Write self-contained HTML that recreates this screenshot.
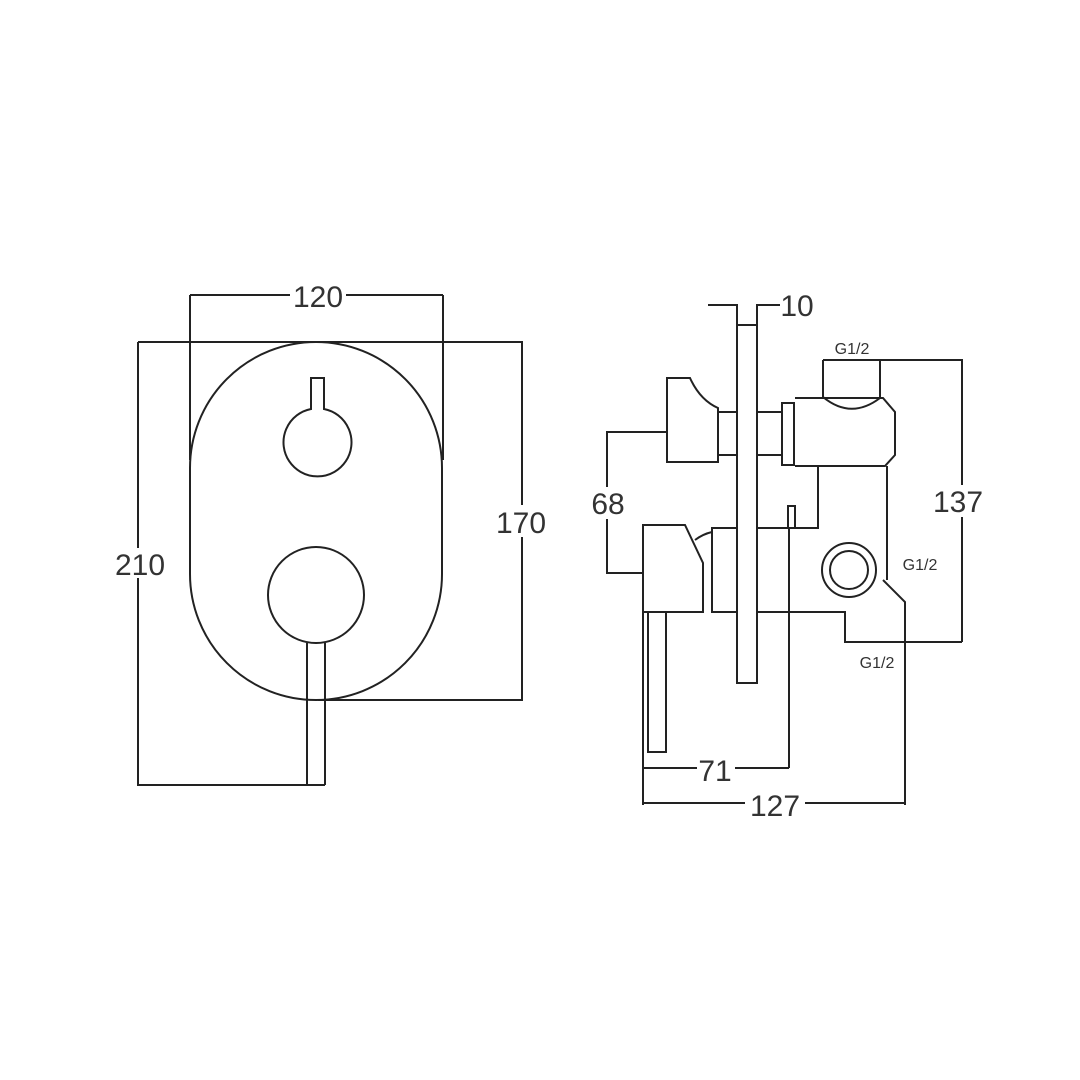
<!DOCTYPE html>
<html><head><style>html,body{margin:0;padding:0;background:#fff}svg{display:block}</style></head><body>
<svg width="1080" height="1080" viewBox="0 0 1080 1080" xmlns="http://www.w3.org/2000/svg">
<g fill="none" stroke="#222" stroke-width="2">
<!-- LEFT VIEW -->
<path d="M190,468 A126,126 0 0 1 442,468 L442,574 A126,126 0 0 1 190,574 Z"/>
<path d="M190,295 L443,295 M190,295 L190,460 M443,295 L443,460"/>
<path d="M138,342 L522,342 L522,700 L318,700 M138,342 L138,785 L325,785"/>
<path d="M311,378 L324,378 L324,409 A34,34 0 1 1 311,409 Z"/>
<circle cx="316" cy="595" r="48"/>
<path d="M307,643 L307,785 M325,643 L325,785"/>
<!-- RIGHT VIEW -->
<rect x="737" y="325" width="20" height="358"/>
<path d="M708,305 L737,305 L737,325 M757,325 L757,305 L780,305"/>
<path d="M667,378 L690,378 Q700,400 718,408 L718,462 L667,462 Z"/>
<rect x="718" y="412" width="19" height="43"/>
<rect x="757" y="412" width="25" height="43"/>
<rect x="782" y="403" width="12" height="62"/>
<path d="M795,398 L883,398 L895,412 L895,455 L885,466 L795,466"/>
<path d="M823,360 L880,360 L880,398 M823,360 L823,397 Q851,420 880,398"/>
<path d="M818,466 L818,528 L757,528 M788,528 L788,506 L795,506 L795,528"/>
<path d="M887,466 L887,580"/>
<path d="M643,525 L685,525 L703,563 L703,612 L643,612 Z"/>
<path d="M695,540 Q703,534 712,532"/>
<rect x="712" y="528" width="25" height="84"/>
<path d="M648,612 L648,752 L666,752 L666,612"/>
<circle cx="849" cy="570" r="27"/>
<circle cx="849" cy="570" r="19"/>
<path d="M757,612 L845,612 L845,642 L962,642 M962,642 L962,360 L880,360"/>
<path d="M883,580 L905,602 L905,805"/>
<path d="M667,432 L607,432 L607,573 L643,573"/>
<path d="M643,612 L643,805 M789,528 L789,768 M643,768 L789,768 M643,803 L905,803"/>
</g>
<g font-family="Liberation Sans, sans-serif" fill="#333" text-anchor="middle">
<rect x="290" y="282" width="56" height="28" fill="#fff"/>
<text x="318" y="307" font-size="30">120</text>
<rect x="112" y="548" width="56" height="30" fill="#fff"/>
<text x="140" y="575" font-size="30">210</text>
<rect x="494" y="505" width="56" height="32" fill="#fff"/>
<text x="521" y="533" font-size="30">170</text>
<text x="797" y="316" font-size="30">10</text>
<rect x="584" y="487" width="46" height="32" fill="#fff"/>
<text x="608" y="514" font-size="30">68</text>
<rect x="930" y="485" width="60" height="32" fill="#fff"/>
<text x="958" y="512" font-size="30">137</text>
<rect x="697" y="755" width="38" height="28" fill="#fff"/>
<text x="715" y="781" font-size="30">71</text>
<rect x="745" y="790" width="60" height="28" fill="#fff"/>
<text x="775" y="816" font-size="30">127</text>
<text x="852" y="354" font-size="16">G1/2</text>
<text x="920" y="570" font-size="16">G1/2</text>
<text x="877" y="668" font-size="16">G1/2</text>
</g>
</svg>
</body></html>
